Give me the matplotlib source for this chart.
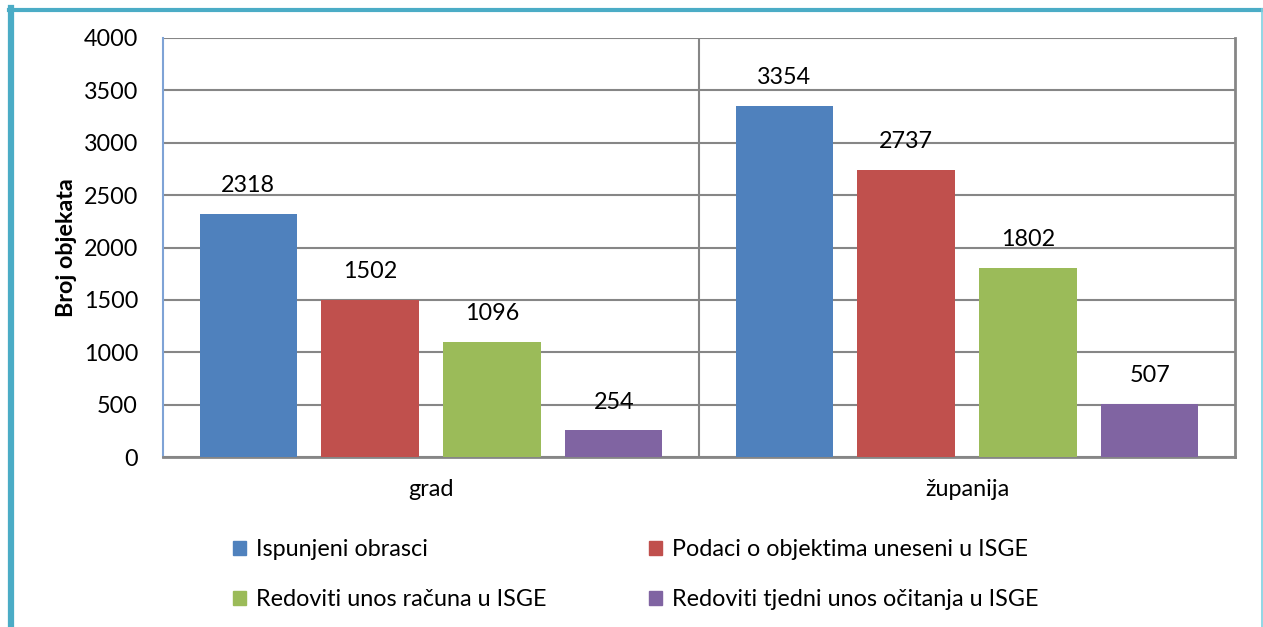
import matplotlib
matplotlib.use("Agg")
import matplotlib.pyplot as plt
from matplotlib.patches import Rectangle
from matplotlib.lines import Line2D
import numpy as np

categories = ["grad", "županija"]
series_names = ["Ispunjeni obrasci", "Podaci o objektima uneseni u ISGE",
                "Redoviti unos računa u ISGE", "Redoviti tjedni unos očitanja u ISGE"]
ispunjeni = [2318, 3354]
podaci = [1502, 2737]
racuni = [1096, 1802]
ocitanja = [254, 507]
colors = ["#4F81BD", "#C0504D", "#9BBB59", "#8064A2"]
yticks = [0, 500, 1000, 1500, 2000, 2500, 3000, 3500, 4000]

plt.rcParams['font.family'] = ['Lato', 'DejaVu Sans']
FS = 16.8

W, H = 1263, 627
fig = plt.figure(figsize=(W / 100, H / 100), dpi=100)
fig.patch.set_facecolor("white")

# outer frame
teal = "#4BACC6"
fig.add_artist(Line2D([10.5 / W, 10.5 / W], [0, 1 - 8 / H], transform=fig.transFigure, color=teal, lw=4.5))
fig.add_artist(Line2D([8.5 / W, 1], [1 - 9.5 / H, 1 - 9.5 / H], transform=fig.transFigure, color=teal, lw=3))
fig.add_artist(Line2D([1261.5 / W, 1261.5 / W], [0, 1 - 9 / H], transform=fig.transFigure, color="#7FCFE0", lw=1.2))

ax = fig.add_axes([163 / W, 1 - 457 / H, (1235 - 163) / W, (457 - 38) / H])
series = [ispunjeni, podaci, racuni, ocitanja]
x = np.arange(len(categories)) + 0.5
step = 0.2276
width = 0.181
for i, (vals, c, name) in enumerate(zip(series, colors, series_names)):
    xs = x + (i - 1.5) * step
    bars = ax.bar(xs, vals, width=width, color=c, label=name, zorder=3)
    for b, v in zip(bars, vals):
        ax.text(b.get_x() + b.get_width() / 2, v + 170, str(v), ha="center", va="bottom",
                fontsize=FS, color="black", zorder=4)

ax.set_xlim(0, 2)
ax.set_ylim(0, 4000)
ax.set_yticks(yticks)
ax.set_yticklabels([str(t) for t in yticks], fontsize=FS)
ax.set_xticks(x)
ax.set_xticklabels(categories, fontsize=FS)
ax.tick_params(axis="y", length=0, pad=18)
ax.tick_params(axis="x", length=0, pad=16)
ax.yaxis.grid(True, color="#868686", lw=1.5, zorder=0)
ax.axvline(1, color="#868686", lw=1.5, zorder=1)
ax.spines["top"].set_visible(False)
ax.spines["right"].set_color("#868686")
ax.spines["right"].set_linewidth(2)
ax.spines["bottom"].set_color("#868686")
ax.spines["bottom"].set_linewidth(2)
ax.spines["left"].set_color("#7FA3D6")
ax.spines["left"].set_linewidth(1.5)
ax.set_ylabel("Broj objekata", fontsize=FS, fontweight="bold", labelpad=5)

order = [0, 2, 1, 3]
handles = [Rectangle((0, 0), 1, 1, color=colors[k]) for k in order]
labels = [series_names[k] for k in order]
leg = fig.legend(handles, labels, loc="upper left", bbox_to_anchor=(233 / W, 1 - 539 / H),
                 ncol=2, frameon=False, fontsize=FS, handlelength=0.56, handleheight=0.56,
                 handletextpad=0.43, columnspacing=4.4, labelspacing=1.25, borderpad=0,
                 borderaxespad=0)

fig.savefig("out.png", dpi=100, facecolor="white")
